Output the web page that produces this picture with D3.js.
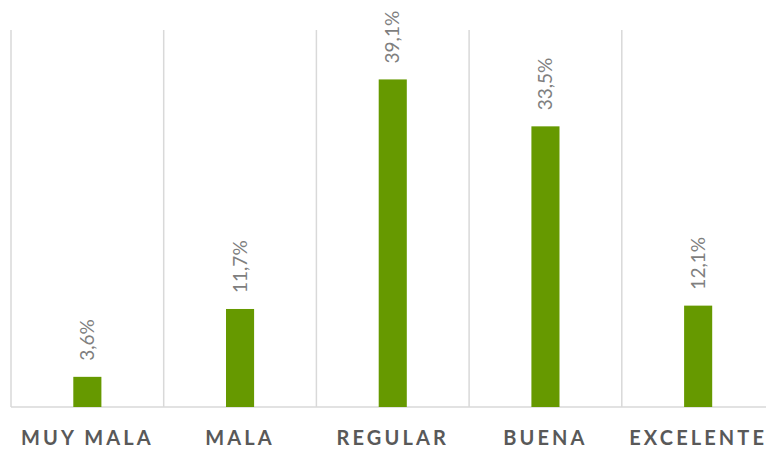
<!DOCTYPE html>
<html>
<head>
<meta charset="utf-8">
<script src="https://cdn.jsdelivr.net/npm/d3@7"></script>
<style>
  body { margin: 0; background: #fff; }
  svg { display: block; }
</style>
</head>
<body>
<div id="chart"></div>
<script>
// data
const categories = ["MUY MALA", "MALA", "REGULAR", "BUENA", "EXCELENTE"];
const values = [3.6, 11.7, 39.1, 33.5, 12.1];

const width = 766, height = 450;
const baseY = 407, topY = 30;

const svg = d3.select("#chart").append("svg")
    .attr("width", width)
    .attr("height", height);

// one cell per category; the chart runs a little past the right edge
const x = d3.scaleBand()
    .domain(categories)
    .range([11, 774.5])
    .padding(0);

const y = d3.scaleLinear()
    .domain([0, 45])
    .range([baseY, topY]);

const barW = x.bandwidth() * 0.184;
const fmt = v => v.toFixed(1).replace(".", ",") + "%";

// vertical separators between categories
const edges = categories.map(c => x(c)).concat([x.range()[1]]);
svg.selectAll("line.sep")
    .data(edges)
    .enter()
    .append("line")
    .attr("class", "sep")
    .attr("x1", d => d).attr("x2", d => d)
    .attr("y1", topY).attr("y2", baseY)
    .attr("stroke", "#d9d9d9")
    .attr("stroke-width", 1.5);

// baseline
svg.append("line")
    .attr("x1", x.range()[0]).attr("x2", x.range()[1])
    .attr("y1", baseY).attr("y2", baseY)
    .attr("stroke", "#d9d9d9")
    .attr("stroke-width", 1.5);

const cx = c => x(c) + x.bandwidth() / 2;

svg.selectAll("rect.bar")
    .data(values)
    .enter()
    .append("rect")
    .attr("class", "bar")
    .attr("x", (d, i) => cx(categories[i]) - barW / 2)
    .attr("y", d => y(d))
    .attr("width", barW)
    .attr("height", d => baseY - y(d))
    .attr("fill", "#669900");

// rotated value labels above the bars
svg.selectAll("text.val")
    .data(values)
    .enter()
    .append("text")
    .attr("class", "val")
    .attr("transform", (d, i) => `translate(${cx(categories[i])},${y(d) - 16}) rotate(-90)`)
    .attr("dy", "0.35em")
    .attr("text-anchor", "start")
    .style("font-family", "Lato, 'Open Sans', sans-serif")
    .style("font-size", "19px")
    .style("fill", "#7f7f7f")
    .text(fmt);

// category labels
svg.selectAll("text.cat")
    .data(categories)
    .enter()
    .append("text")
    .attr("class", "cat")
    .attr("x", d => cx(d))
    .attr("y", 445)
    .attr("text-anchor", "middle")
    .style("font-family", "Lato, 'Open Sans', sans-serif")
    .style("font-weight", "bold")
    .style("font-size", "20px")
    .style("letter-spacing", "3.1px")
    .style("fill", "#595959")
    .text(d => d);
</script>
</body>
</html>
